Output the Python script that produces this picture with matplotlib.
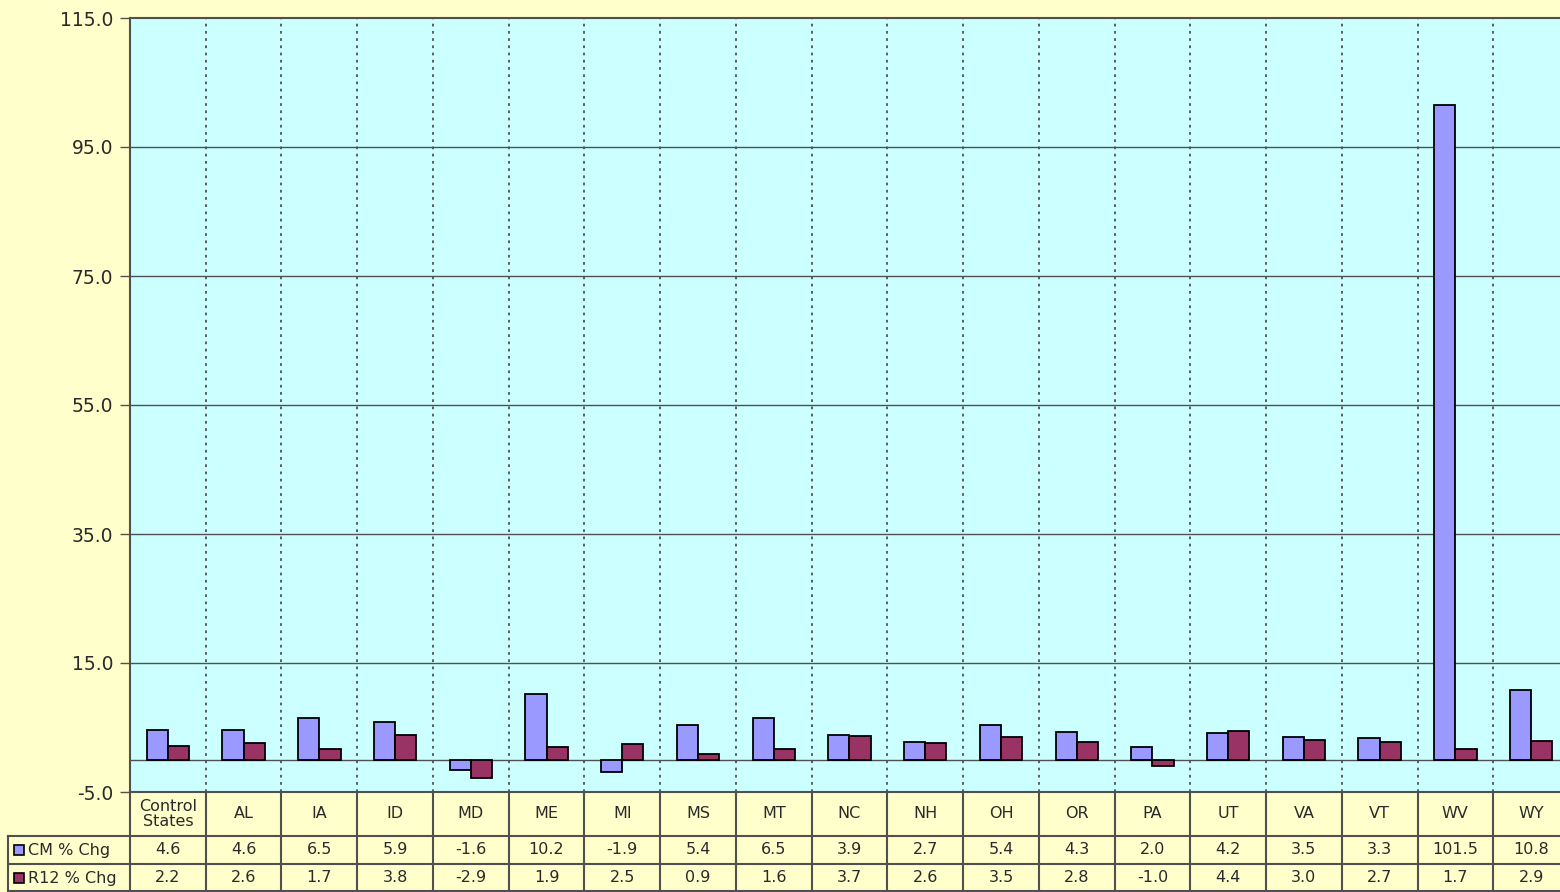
import numpy as np
import matplotlib.pyplot as plt
from matplotlib.ticker import FixedLocator

plt.rcParams['font.family'] = ['DejaVu Sans']

states = ["Control\nStates", "AL", "IA", "ID", "MD", "ME", "MI", "MS", "MT", "NC",
          "NH", "OH", "OR", "PA", "UT", "VA", "VT", "WV", "WY"]
cm_chg = [4.6, 4.6, 6.5, 5.9, -1.6, 10.2, -1.9, 5.4, 6.5, 3.9,
          2.7, 5.4, 4.3, 2.0, 4.2, 3.5, 3.3, 101.5, 10.8]
r12_chg = [2.2, 2.6, 1.7, 3.8, -2.9, 1.9, 2.5, 0.9, 1.6, 3.7,
           2.6, 3.5, 2.8, -1.0, 4.4, 3.0, 2.7, 1.7, 2.9]
series_names = ["CM % Chg", "R12 % Chg"]
yticks = [-5, 15, 35, 55, 75, 95, 115]

bg = "#FFFFCC"
plot_bg = "#CCFFFF"
c_cm = "#9999FF"
c_r12 = "#993366"
grid_c = "#505050"
txt_c = "#2a2a2a"

W, H = 1560, 892
fig = plt.figure(figsize=(W / 100, H / 100), dpi=100, facecolor=bg)

left, right, top, bottom = 130, 1569, 18, 792
ax = fig.add_axes([left / W, (H - bottom) / H, (right - left) / W, (bottom - top) / H])
ax.set_facecolor(plot_bg)

x = np.arange(len(states))
bw = 0.28
ax.bar(x - bw / 2, cm_chg, bw, color=c_cm, edgecolor="black", linewidth=1.3, zorder=3)
ax.bar(x + bw / 2, r12_chg, bw, color=c_r12, edgecolor="black", linewidth=1.3, zorder=3)

ax.set_xlim(-0.5, len(states) - 0.5)
ax.set_ylim(-5, 115)
ax.yaxis.set_major_locator(FixedLocator(yticks))
ax.set_yticklabels([f"{v:.1f}" for v in yticks], fontsize=13.5, color=txt_c)
ax.tick_params(axis="y", length=7, width=1, color=grid_c, pad=5)
ax.set_xticks([])

for v in yticks[1:-1]:
    ax.axhline(v, color=grid_c, lw=1, zorder=1)
ax.axhline(0, color=grid_c, lw=1, zorder=2)
for d in np.arange(0.5, len(states) - 0.5, 1):
    ax.axvline(d, color=grid_c, lw=1.3, ls=(0, (1.5, 2.5)), zorder=1)

for s in ["left", "top", "bottom", "right"]:
    ax.spines[s].set_color(grid_c)
    ax.spines[s].set_linewidth(1.5)

# data table below the plot
tab = fig.add_axes([left / W, 0, (right - left) / W, (H - bottom) / H])
tab.set_facecolor(bg)
tab.set_xlim(-0.5, len(states) - 0.5)
tab.set_ylim(0, 100)
tab.axis("off")

line_kw = dict(color=grid_c, lw=1.5, clip_on=False)
for d in np.arange(-0.5, len(states) + 0.5, 1):
    tab.plot([d, d], [0, 100], **line_kw)
ncols = len(states)
unit = (right - left) / ncols  # pixels per category
ext = -0.5 - (left - 8) / unit
for yy in [56, 28, 1]:
    tab.plot([ext, len(states) - 0.5], [yy, yy], **line_kw)
tab.plot([ext, ext], [1, 56], **line_kw)

for i, s in enumerate(states):
    tab.text(i, 78, s, ha="center", va="center", fontsize=11.5, color=txt_c,
             linespacing=1.05)
    tab.text(i, 42, f"{cm_chg[i]:.1f}", ha="center", va="center", fontsize=11.5, color=txt_c)
    tab.text(i, 14, f"{r12_chg[i]:.1f}", ha="center", va="center", fontsize=11.5, color=txt_c)

for yy, name, col in [(42, series_names[0], c_cm), (14, series_names[1], c_r12)]:
    tab.plot([ext + 11 / unit], [yy], marker="s", ms=6.5, mfc=col, mec="black",
             mew=1.2, clip_on=False)
    tab.text(ext + 20 / unit, yy, name, ha="left", va="center",
             fontsize=11.5, color=txt_c)

fig.savefig("out.png", dpi=100, facecolor=bg)
